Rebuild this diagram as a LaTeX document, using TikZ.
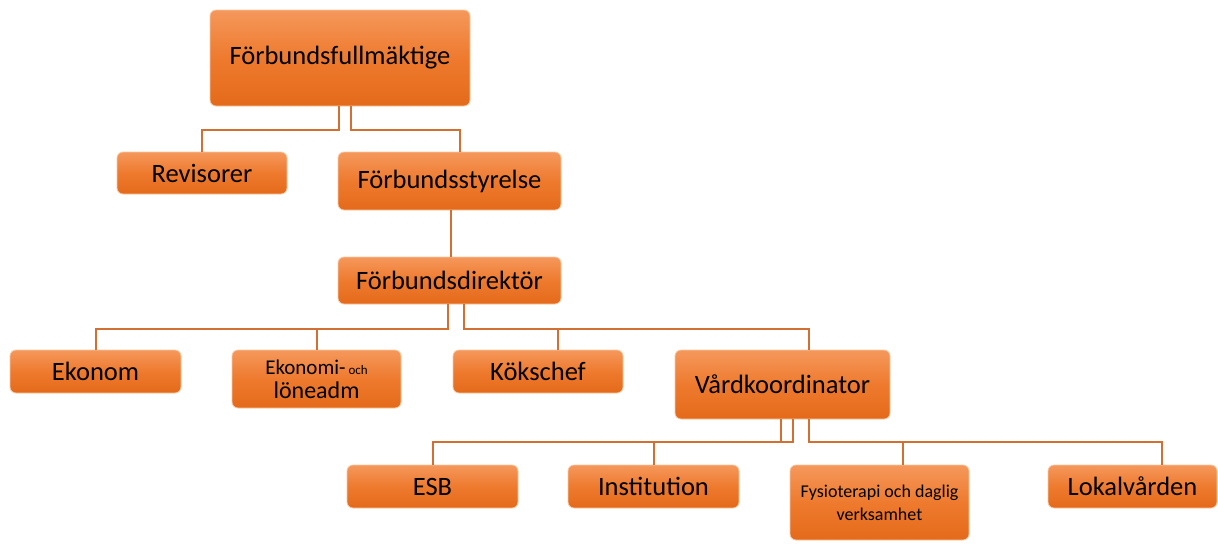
\documentclass[tikz,border=0pt]{standalone}
\usepackage{fontspec}
\setmainfont{Carlito}
\definecolor{boxtop}{RGB}{245,152,92}
\definecolor{boxmid}{RGB}{238,122,46}
\definecolor{boxbot}{RGB}{228,106,26}
\definecolor{boxedge}{RGB}{250,200,160}
\definecolor{linkcol}{RGB}{210,112,52}
\begin{document}
\begin{tikzpicture}[x=1pt,y=-1pt,
  box/.style={rounded corners=6pt, draw=boxedge, line width=0.8pt,
    top color=boxtop, bottom color=boxbot, middle color=boxmid,
    inner sep=2pt, align=center, text=black,
    font=\fontsize{26.5}{30}\selectfont},
  smallbox/.style={box, font=\fontsize{18}{23}\selectfont},
  link/.style={draw=linkcol, line width=2pt}]
\useasboundingbox (0,0) rectangle (1218,544);
\fill[white] (0,0) rectangle (1218,544);
% nodes
\node[box, minimum width=260pt, minimum height=96pt] (ff) at (340,58) {Förbundsfullmäktige};
\node[box, minimum width=170pt, minimum height=42pt] (rev) at (202,173) {Revisorer};
\node[box, minimum width=223pt, minimum height=58pt] (fs) at (449.5,181) {Förbundsstyrelse};
\node[box, minimum width=223pt, minimum height=47pt] (fd) at (449.5,280.5) {Förbundsdirektör};
\node[box, minimum width=171pt, minimum height=43pt] (ek) at (95.5,371.5) {Ekonom};
\node[box, minimum width=169pt, minimum height=58pt, font=\fontsize{21}{24}\selectfont] (el) at (316.5,379) {Ekonomi-{\fontsize{13}{14}\selectfont\ och}\\{\fontsize{24}{24}\selectfont löneadm}};
\node[box, minimum width=170pt, minimum height=43pt] (kk) at (538,371.5) {Kökschef};
\node[box, minimum width=215pt, minimum height=69pt] (vk) at (782.5,384.5) {Vårdkoordinator};
\node[box, minimum width=171pt, minimum height=43pt] (esb) at (432.5,486.5) {ESB};
\node[box, minimum width=171pt, minimum height=43pt] (inst) at (653.5,486.5) {Institution};
\node[smallbox, minimum width=179pt, minimum height=75pt] (fys) at (879.5,502.5) {Fysioterapi och daglig\\verksamhet};
\node[box, minimum width=169pt, minimum height=43pt] (lok) at (1132.5,486.5) {Lokalvården};
% connectors
\draw[link] ([xshift=-1pt]ff.south) -- ++(0,24) -| (rev.north);
\draw[link] ([xshift=11pt]ff.south) -- ++(0,24) -| ([xshift=10.5pt]fs.north);
\draw[link] ([xshift=1.5pt]fs.south) -- ([xshift=1.5pt]fd.north);
\draw[link] ([xshift=-1.5pt]fd.south) -- ++(0,25) -| (ek.north);
\draw[link] ([xshift=-1.5pt]fd.south) -- ++(0,25) -| (el.north);
\draw[link] ([xshift=14.5pt]fd.south) -- ++(0,25) -| ([xshift=20pt]kk.north);
\draw[link] ([xshift=14.5pt]fd.south) -- ++(0,25) -| ([xshift=26.5pt]vk.north);
\draw[link] ([xshift=-1.5pt]vk.south) -- ++(0,23) -| (esb.north);
\draw[link] ([xshift=10.5pt]vk.south) -- ++(0,23) -| (inst.north);
\draw[link] ([xshift=26.5pt]vk.south) -- ++(0,23) -| ([xshift=23.5pt]fys.north);
\draw[link] ([xshift=26.5pt]vk.south) -- ++(0,23) -| ([xshift=29.5pt]lok.north);
\end{tikzpicture}
\end{document}
